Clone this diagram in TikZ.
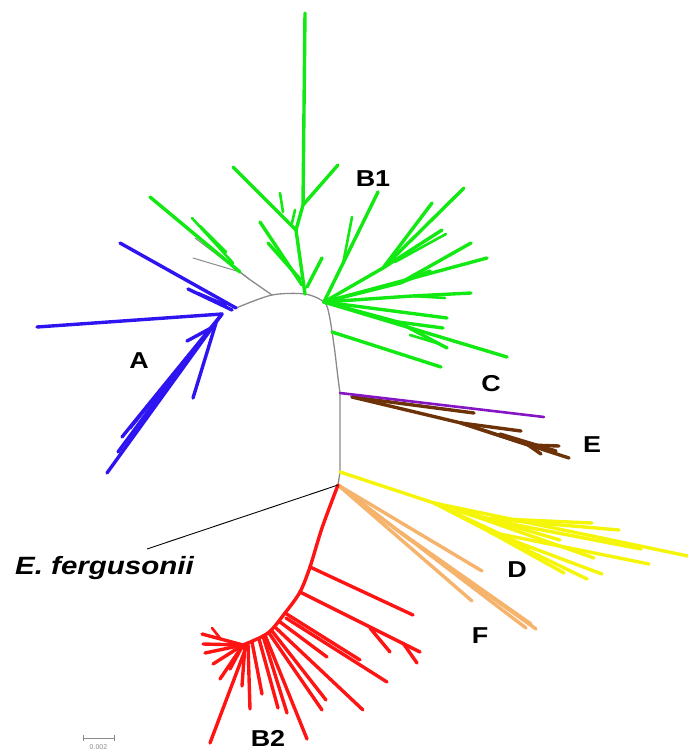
\documentclass[tikz,border=0pt]{standalone}
\usepackage{fontspec}
\setmainfont{Liberation Sans}
\definecolor{cgreen}{HTML}{12E812}
\definecolor{cblue}{HTML}{2E14F0}
\definecolor{cpurple}{HTML}{8414C4}
\definecolor{cbrown}{HTML}{6E3208}
\definecolor{cyellow}{HTML}{F5F50A}
\definecolor{corange}{HTML}{F5B36C}
\definecolor{cred}{HTML}{FF1414}
\definecolor{cgray}{HTML}{8A8A8A}
\tikzset{
  br/.style={line width=3.4pt, line cap=round},
  thin br/.style={line width=2.6pt, line cap=round},
  bb/.style={line width=1.3pt, cgray, line cap=round},
  lbl/.style={font=\bfseries\fontsize{23}{23}\selectfont, inner sep=0pt},
}
\begin{document}
\begin{tikzpicture}[x=1pt,y=-1pt]
\useasboundingbox (0,0) rectangle (688,753);
% ---------- backbone ----------
\coordinate (RA) at (222,314);
\coordinate (J0) at (236,308);
\coordinate (J1) at (272,295);
\coordinate (R1) at (305,294);
\coordinate (R2) at (324,302);
\coordinate (RC) at (340,393);
\coordinate (RD) at (340,472);
\coordinate (RR) at (338,485);
\draw[bb] plot[smooth, tension=0.5] coordinates {(J0) (J1) (R1) (R2) (329,314) (334,345) (338,378) (RC)};
\draw[bb] (RC) -- (RD) -- (RR);
% gray side branch
\coordinate (G1) at (249,279);
\coordinate (G2) at (240,272);
\draw[bb] (J1) -- (G1) -- (G2);
\draw[bb,line width=1pt] (G1) -- (195,238);
\draw[bb,line width=1pt] (G2) -- (193,258);
% ---------- B1 (green) ----------
\begin{scope}[cgreen, br]
\draw (G2) -- (150,197);
\draw[thin br] (233,263) -- (192,218);
\draw[thin br] (226,252) -- (200,226);
% trunk
\coordinate (T1) at (296,230);
\coordinate (T2) at (303,205);
\draw (R1) -- (T1) -- (T2) -- (305,13);
\draw (T2) -- (338,165);
\draw (T1) -- (233,167);
\draw[thin br] (283,212) -- (280,193);
\draw[thin br] (292,223) -- (295,210);
\draw (302,285) -- (260,222);
\draw (300,279) -- (268,243);
\draw (307,287) -- (322,258);
% right fan
\draw (R2) -- (378,192);
\draw[thin br] (343,264) -- (352,217);
\coordinate (U1) at (383,268);
\draw (R2) -- (U1) -- (464,188);
\draw (U1) -- (432,203);
\draw (U1) -- (442,230);
\draw[thin br] (395,262) -- (446,234);
\coordinate (U2) at (400,283);
\draw (R2) -- (U2) -- (471,243);
\draw (R2) -- (487,258);
\draw (U2) -- (430,271);
\coordinate (U3) at (412,296);
\draw (R2) -- (U3) -- (471,293);
\draw[thin br] (U3) -- (445,298);
\draw (R2) -- (447,318);
\coordinate (U4) at (398,322);
\draw (R2) -- (U4) -- (443,328);
\draw (U4) -- (447,348);
\draw (R2) -- (507,357);
\draw[thin br] (410,335) -- (440,344);
\draw (332,332) -- (441,367);
\end{scope}
% ---------- A (blue) ----------
\begin{scope}[cblue, br]
\draw (RA) -- (37,327);
\draw (J0) -- (120,243);
\draw (232,310) -- (188,289);
\draw[thin br] (226,305) -- (198,293);
\draw (RA) -- (107,473);
\draw (RA) -- (122,437);
\draw (190,355) -- (130,428);
\draw (175,375) -- (118,452);
\draw (216,323) -- (193,398);
\draw (211,328) -- (187,341);
\end{scope}
% ---------- E (brown) ----------
\begin{scope}[cbrown, br]
\coordinate (E0) at (352,397);
\coordinate (E1) at (461,423);
\coordinate (E2) at (528,445);
\draw (E0) -- (474,413);
\draw (E0) -- (E1) -- (521,431);
\draw (E1) -- (E2) -- (559,446);
\draw (E1) -- (569,458);
\draw (E2) -- (541,454);
\draw (500,434) -- (556,451);
\end{scope}
% ---------- C (purple) ----------
\draw[cpurple, thin br] (RC) -- (544,417);
% ---------- D (yellow) ----------
\begin{scope}[cyellow, br]
\coordinate (D1) at (434,503);
\coordinate (D2) at (480,518);
\coordinate (D3) at (490,532);
\draw (RD) -- (D1) -- (688,556);
\draw (D1) -- (D2) -- (592,523);
\draw (D2) -- (619,530);
\draw (D2) -- (641,549);
\draw (D2) -- (594,558);
\draw (D1) -- (D3) -- (649,564);
\draw (D3) -- (602,574);
\draw (D3) -- (587,579);
\draw (D3) -- (564,573);
\draw (D1) -- (560,540);
\draw (D1) -- (530,548);
\draw (D1) -- (510,525);
\end{scope}
% ---------- F (orange) ----------
\begin{scope}[corange, br]
\coordinate (F1) at (400,532);
\draw (RR) -- (482,571);
\draw (RR) -- (472,601);
\draw (RR) -- (F1) -- (536,629);
\draw (F1) -- (526,628);
\draw (F1) -- (531,624);
\draw (RR) -- (410,540);
\end{scope}
% ---------- B2 (red) ----------
\begin{scope}[cred, br]
\coordinate (S1) at (310,567);
\coordinate (S2) at (300,592);
\coordinate (S3) at (285,613);
\coordinate (S4) at (268,633);
\coordinate (S5) at (243,645);
\draw plot[smooth, tension=0.5] coordinates {(RR) (322,528) (S1) (S2) (S3) (S4) (S5)};
\draw (S1) -- (413,615);
\draw (S2) -- (420,652);
\draw (370,628) -- (390,652);
\draw (403,643) -- (417,663);
\draw (S3) -- (360,660);
\draw (286,618) -- (387,682);
\draw (280,622) -- (327,657);
\draw (276,628) -- (363,710);
\draw (272,631) -- (326,700);
\draw (269,633) -- (322,710);
\draw (265,635) -- (307,739);
\draw (263,636) -- (287,713);
\draw (259,639) -- (278,708);
\draw (252,642) -- (262,694);
\draw (248,644) -- (250,709);
\draw (247,645) -- (210,743);
\draw (245,645) -- (242,686);
\draw (S5) -- (202,634);
\draw (S5) -- (203,644);
\draw (S5) -- (205,653);
\draw (S5) -- (213,664);
\draw (S5) -- (220,679);
\draw (S5) -- (230,669);
\draw[thin br] (220,638) -- (212,628);
\end{scope}
% ---------- E. fergusonii ----------
\coordinate (EF) at (147,549);
\draw[black, line width=0.9pt] (RR) -- (EF);
\node[lbl, font=\bfseries\itshape\fontsize{25}{25}\selectfont, anchor=west] (efl) at (15,568) {\scalebox{1.18}[1]{E. fergusonii}};
% ---------- labels ----------
\node[lbl] (lB1) at (373,179) {\scalebox{1.17}[1]{B1}};
\node[lbl] (lA) at (139,361) {\scalebox{1.17}[1]{A}};
\node[lbl] (lC) at (491,384) {\scalebox{1.17}[1]{C}};
\node[lbl] (lE) at (592,445) {\scalebox{1.17}[1]{E}};
\node[lbl] (lD) at (517,570) {\scalebox{1.17}[1]{D}};
\node[lbl] (lF) at (480,636) {\scalebox{1.17}[1]{F}};
\node[lbl] (lB2) at (268,738) {\scalebox{1.17}[1]{B2}};
% ---------- scale bar ----------
\coordinate (sb1) at (83,738);
\coordinate (sb2) at (114,738);
\draw[cgray, line width=0.8pt] (sb1) -- (sb2);
\draw[cgray, line width=0.8pt] (83,735) -- (83,741);
\draw[cgray, line width=0.8pt] (114,735) -- (114,741);
\node[text=cgray, font=\fontsize{7}{7}\selectfont, inner sep=0pt] (sbl) at (98.5,747) {0.002};
\end{tikzpicture}
\end{document}
